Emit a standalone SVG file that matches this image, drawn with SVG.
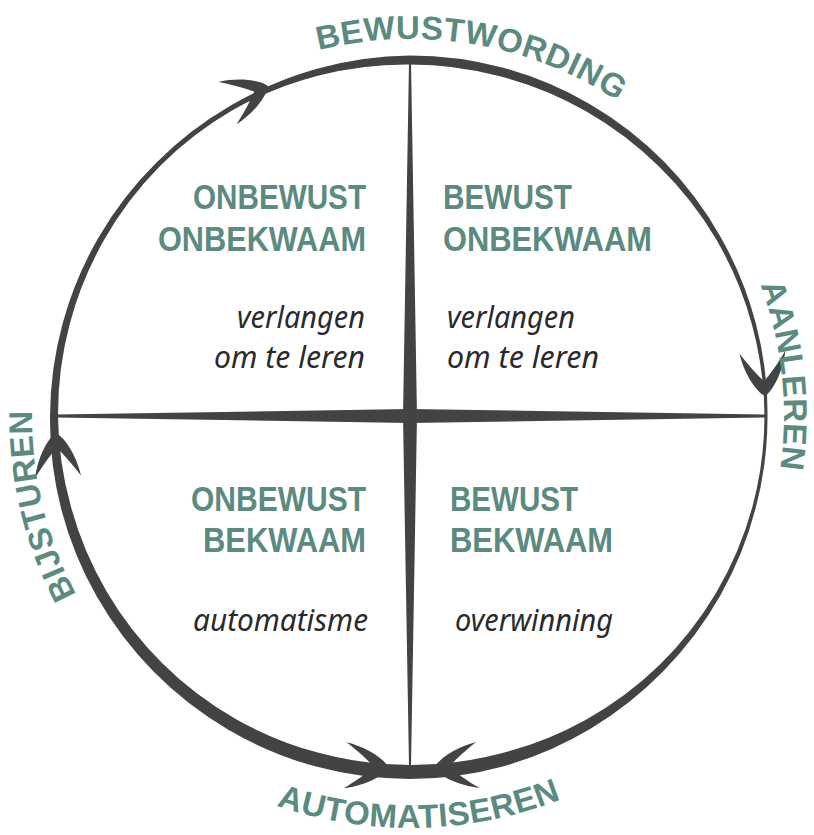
<svg xmlns="http://www.w3.org/2000/svg" xmlns:xlink="http://www.w3.org/1999/xlink" width="814" height="835" viewBox="0 0 814 835">
  <style>
    .ink { fill: #424345; }
    .head { font-family: "Liberation Sans Narrow", "Liberation Sans", Arial, sans-serif; font-weight: bold; font-size: 35px; fill: #5b8a7f; }
    .note { font-family: "Noto Sans", "Open Sans", sans-serif; font-style: italic; font-size: 30px; fill: #2a2a2a; }
    .arc-label { font-family: "Liberation Sans", Arial, sans-serif; font-weight: bold; font-size: 33px; fill: #5b8a7f; letter-spacing: 0.5px; }
  </style>
  <defs>
    <!-- barbed arrowhead, tip at origin pointing along +x -->
    <path id="barb" d="M0,0 C-6,10 -26,20 -44,23 C-32,15 -21,6 -15,0 C-21,-6 -32,-15 -44,-23 C-26,-20 -6,-10 0,0 Z"/>
    <!-- baselines for the curved phase names -->
    <path id="p-top" d="M318.5,50.2 A378,378 0 0 1 699.6,174"/>
    <path id="p-right" d="M760.3,285 A374,374 0 0 1 733.9,603"/>
    <path id="p-left" d="M76.3,594.5 A378,378 0 0 1 54.8,287.7"/>
    <path id="p-bottom" d="M276.3,805.5 A411,411 0 0 0 674.2,731.8"/>
  </defs>

  <rect width="814" height="835" fill="#ffffff"/>

  <!-- cycle ring with brush-like varying thickness, plus arrowheads -->
  <g id="connectors" class="ink">
    <path fill-rule="evenodd" d="M767.5,416
      A357.75,357.75 0 0 1 755.56,508.59
      A358.5,358.5 0 0 1 720.47,595.25
      A359.5,359.5 0 0 1 664.2,670.2
      A361,361 0 0 1 590.5,728.63
      A362.5,362.5 0 0 1 503.82,766.14
      A363,363 0 0 1 410,779
      A363,363 0 0 1 316.06,766.62
      A362.5,362.5 0 0 1 228.75,729.93
      A362,362 0 0 1 154.03,671.97
      A361.5,361.5 0 0 1 96.94,596.75
      A361,361 0 0 1 61.31,509.43
      A360,360 0 0 1 50,416
      A359.5,359.5 0 0 1 62.76,322.96
      A359,359 0 0 1 99.11,236.5
      A358.5,358.5 0 0 1 156.5,162.5
      A358.5,358.5 0 0 1 230.75,105.53
      A359.5,359.5 0 0 1 316.96,68.76
      A360.5,360.5 0 0 1 410,55.5
      A360.5,360.5 0 0 1 503.3,67.79
      A360,360 0 0 1 590,104.24
      A359.5,359.5 0 0 1 664.2,161.8
      A358.5,358.5 0 0 1 720.47,236.75
      A358,358 0 0 1 755.79,323.35
      A357.5,357.5 0 0 1 767.5,416 Z
      M764.5,416
      A354,354 0 0 0 751.93,324.38
      A353.5,353.5 0 0 0 716.14,239.25
      A352.5,352.5 0 0 0 659.25,166.75
      A352,352 0 0 0 586,111.16
      A351.5,351.5 0 0 0 500.97,76.48
      A351.5,351.5 0 0 0 410,64.5
      A352.5,352.5 0 0 0 318.77,75.52
      A353.5,353.5 0 0 0 233.25,109.86
      A353.5,353.5 0 0 0 160.04,166.04
      A353,353 0 0 0 104.3,239.5
      A352.5,352.5 0 0 0 69.52,324.77
      A352,352 0 0 0 58,416
      A351,351 0 0 0 70.97,506.84
      A350.5,350.5 0 0 0 106.46,591.25
      A350,350 0 0 0 162.51,663.49
      A349.5,349.5 0 0 0 235.25,718.67
      A349,349 0 0 0 319.68,753.1
      A349,349 0 0 0 410,765
      A349.5,349.5 0 0 0 500.45,753.58
      A351,351 0 0 0 585.5,719.97
      A353.5,353.5 0 0 0 659.25,665.25
      A354.25,354.25 0 0 0 716.14,592.75
      A354.5,354.5 0 0 0 752.18,507.68
      A354.5,354.5 0 0 0 764.5,416 Z"/>
    <use xlink:href="#barb" transform="translate(268,86) rotate(-23)"/>
    <use xlink:href="#barb" transform="translate(765,396) rotate(86.6)"/>
    <use xlink:href="#barb" transform="translate(389,768) rotate(3.6)"/>
    <use xlink:href="#barb" transform="translate(434,768) rotate(175.9)"/>
    <use xlink:href="#barb" transform="translate(56,433) rotate(-92.8)"/>
  </g>

  <!-- tapered cross dividing the four quadrants -->
  <g id="cross" class="ink">
    <path d="M409,62 L411,62 L417,416 L411,766 L409,766 L403,416 Z"/>
    <path d="M56,414.5 L56,417.5 L410,423 L765,417.5 L765,414.5 L410,409 Z"/>
  </g>

  <!-- phase names around the ring -->
  <g id="phase-labels" class="arc-label">
    <text><textPath xlink:href="#p-top">BEWUSTWORDING</textPath></text>
    <text><textPath xlink:href="#p-right">AANLEREN</textPath></text>
    <text><textPath xlink:href="#p-left">BIJSTUREN</textPath></text>
    <text><textPath xlink:href="#p-bottom">AUTOMATISEREN</textPath></text>
  </g>

  <g id="q-onbewust-onbekwaam">
    <text class="head" x="193" y="209" textLength="173" lengthAdjust="spacingAndGlyphs">ONBEWUST</text>
    <text class="head" x="158" y="251" textLength="208" lengthAdjust="spacingAndGlyphs">ONBEKWAAM</text>
    <text class="note" x="237" y="328" textLength="128" lengthAdjust="spacingAndGlyphs">verlangen</text>
    <text class="note" x="214" y="368" textLength="151" lengthAdjust="spacingAndGlyphs">om te leren</text>
  </g>

  <g id="q-bewust-onbekwaam">
    <text class="head" x="443" y="209" textLength="129" lengthAdjust="spacingAndGlyphs">BEWUST</text>
    <text class="head" x="443" y="251" textLength="209" lengthAdjust="spacingAndGlyphs">ONBEKWAAM</text>
    <text class="note" x="447" y="328" textLength="128" lengthAdjust="spacingAndGlyphs">verlangen</text>
    <text class="note" x="447" y="368" textLength="152" lengthAdjust="spacingAndGlyphs">om te leren</text>
  </g>

  <g id="q-onbewust-bekwaam">
    <text class="head" x="191" y="511" textLength="175" lengthAdjust="spacingAndGlyphs">ONBEWUST</text>
    <text class="head" x="203" y="552" textLength="163" lengthAdjust="spacingAndGlyphs">BEKWAAM</text>
    <text class="note" x="193" y="631" textLength="175" lengthAdjust="spacingAndGlyphs">automatisme</text>
  </g>

  <g id="q-bewust-bekwaam">
    <text class="head" x="450" y="511" textLength="128" lengthAdjust="spacingAndGlyphs">BEWUST</text>
    <text class="head" x="450" y="552" textLength="163" lengthAdjust="spacingAndGlyphs">BEKWAAM</text>
    <text class="note" x="455" y="631" textLength="158" lengthAdjust="spacingAndGlyphs">overwinning</text>
  </g>
</svg>
